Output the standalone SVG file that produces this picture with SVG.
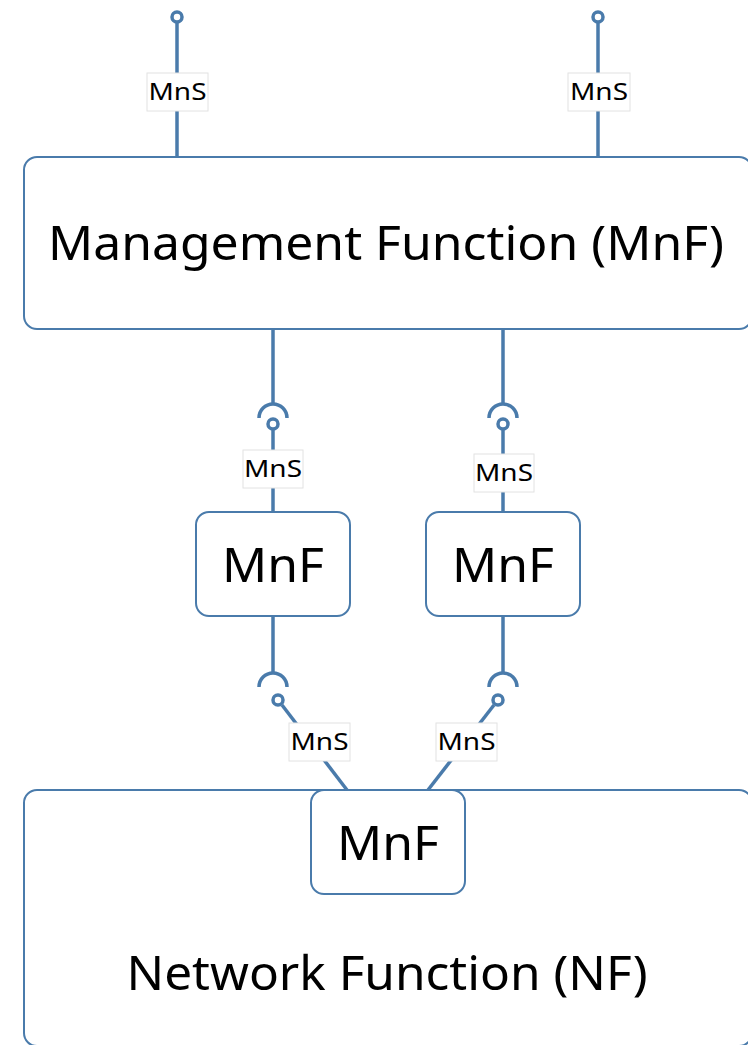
<svg xmlns="http://www.w3.org/2000/svg" width="748" height="1045" viewBox="0 0 748 1045">
<style>
.box{fill:#fff;stroke:#4a7bab;stroke-width:2}
.ln{fill:none;stroke:#4a7bab;stroke-width:3.5}
.lbl{fill:#fff;stroke:#e2e2e2;stroke-width:1}
.t{font-family:"Noto Sans","Liberation Sans",sans-serif;fill:#000;text-anchor:middle}
.s{font-size:23px}
.big{font-size:48px}
</style>
<rect width="748" height="1045" fill="#fff"/>
<g id="mgmt">
<rect class="box" x="24" y="157" width="728" height="172" rx="13"/>
<text class="t big" x="386" y="260" textLength="676" lengthAdjust="spacingAndGlyphs">Management Function (MnF)</text>
</g>
<g id="nf">
<rect class="box" x="24" y="790" width="728" height="256" rx="13"/>
<text class="t big" x="387" y="990" textLength="521" lengthAdjust="spacingAndGlyphs">Network Function (NF)</text>
</g>
<g id="mnf1">
<rect class="box" x="196" y="512" width="154" height="104" rx="13"/>
<text class="t big" x="273" y="582" textLength="102" lengthAdjust="spacingAndGlyphs">MnF</text>
</g>
<g id="mnf2">
<rect class="box" x="426" y="512" width="154" height="104" rx="13"/>
<text class="t big" x="503" y="582" textLength="102" lengthAdjust="spacingAndGlyphs">MnF</text>
</g>
<g id="mnf3">
<rect class="box" x="311" y="790" width="154" height="104" rx="13"/>
<text class="t big" x="388" y="860" textLength="102" lengthAdjust="spacingAndGlyphs">MnF</text>
</g>
<g id="connectors">
<line class="ln" x1="177" y1="157" x2="177" y2="22"/>
<circle class="ln" cx="177" cy="17" r="5" stroke-width="3"/>
<line class="ln" x1="598" y1="157" x2="598" y2="22"/>
<circle class="ln" cx="598" cy="17" r="5" stroke-width="3"/>
<line class="ln" x1="273" y1="329" x2="273" y2="404"/>
<path class="ln" d="M259,418 A14,14 0 0 1 287,418"/>
<circle class="ln" cx="273" cy="424" r="5" stroke-width="3"/>
<line class="ln" x1="273" y1="429" x2="273" y2="512"/>
<line class="ln" x1="503" y1="329" x2="503" y2="404"/>
<path class="ln" d="M489,418 A14,14 0 0 1 517,418"/>
<circle class="ln" cx="503" cy="424" r="5" stroke-width="3"/>
<line class="ln" x1="503" y1="429" x2="503" y2="512"/>
<line class="ln" x1="273" y1="616" x2="273" y2="673"/>
<path class="ln" d="M259,687 A14,14 0 0 1 287,687"/>
<circle class="ln" cx="278" cy="700" r="5" stroke-width="3"/>
<line class="ln" x1="282" y1="705" x2="347" y2="790"/>
<line class="ln" x1="503" y1="616" x2="503" y2="673"/>
<path class="ln" d="M489,687 A14,14 0 0 1 517,687"/>
<circle class="ln" cx="498" cy="700" r="5" stroke-width="3"/>
<line class="ln" x1="494" y1="705" x2="428" y2="790"/>
<rect class="lbl" x="147" y="73" width="61" height="38"/>
<text class="t s" x="177.5" y="100" textLength="58" lengthAdjust="spacingAndGlyphs">MnS</text>
<rect class="lbl" x="568" y="73" width="62" height="38"/>
<text class="t s" x="599" y="100" textLength="58" lengthAdjust="spacingAndGlyphs">MnS</text>
<rect class="lbl" x="243" y="450" width="60" height="38"/>
<text class="t s" x="273" y="477" textLength="58" lengthAdjust="spacingAndGlyphs">MnS</text>
<rect class="lbl" x="474" y="454" width="60" height="38"/>
<text class="t s" x="504" y="481" textLength="58" lengthAdjust="spacingAndGlyphs">MnS</text>
<rect class="lbl" x="289" y="723" width="61" height="38"/>
<text class="t s" x="319.5" y="750" textLength="58" lengthAdjust="spacingAndGlyphs">MnS</text>
<rect class="lbl" x="436" y="723" width="61" height="38"/>
<text class="t s" x="466.5" y="750" textLength="58" lengthAdjust="spacingAndGlyphs">MnS</text>
</g>
</svg>
